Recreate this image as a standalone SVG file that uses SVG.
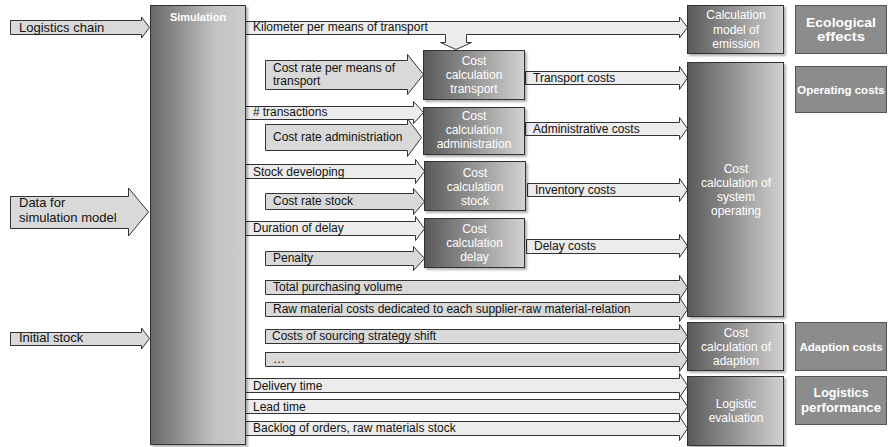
<svg xmlns="http://www.w3.org/2000/svg" width="889" height="447" viewBox="0 0 889 447">
  <defs>
    <linearGradient id="gSim" x1="0" y1="0" x2="1" y2="0">
      <stop offset="0" stop-color="#676767"/>
      <stop offset="0.68" stop-color="#c3c3c3"/>
      <stop offset="1" stop-color="#cdcdcd"/>
    </linearGradient>
    <linearGradient id="gCalc" x1="0" y1="0" x2="1" y2="0">
      <stop offset="0" stop-color="#595959"/>
      <stop offset="1" stop-color="#d2d2d2"/>
    </linearGradient>
    <filter id="shadow" x="-10%" y="-10%" width="130%" height="130%">
      <feDropShadow dx="2" dy="2" stdDeviation="1" flood-color="#000" flood-opacity="0.3"/>
    </filter>
  </defs>
  <style>
    .arr { stroke: #333; stroke-width: 1; }
    .in { fill: #d9d9d9; }
    .out { fill: #ececec; }
    text { font-family: "Liberation Sans", Arial, sans-serif; }
    .lbl { font-size: 12px; fill: #111; }
    .big { font-size: 13px; fill: #111; }
    .box { stroke: #333; stroke-width: 1; fill: url(#gCalc); filter: url(#shadow); }
    .sim { stroke: #333; stroke-width: 1; fill: url(#gSim); filter: url(#shadow); }
    .btx { font-size: 12px; fill: #fff; text-anchor: middle; }
    .res { fill: #8c8c8c; stroke: #555; stroke-width: 1; }
    .rtx { font-size: 12.5px; font-weight: bold; fill: #fff; text-anchor: middle; }
    .rtx-s { font-size: 11.5px; font-weight: bold; fill: #fff; text-anchor: middle; }
  </style>

  <!-- arrows: inputs, simulation outputs and cost flows -->
  <g id="connectors">
    <g class="arr in">
      <path d="M10.5,20.5 H141.5 V17 L149.5,27.5 L141.5,38 V34.5 H10.5 Z"/>
      <path d="M10.5,196.5 H128.5 V188 L148.5,212 L128.5,236 V228.5 H10.5 Z"/>
      <path d="M10.5,332.5 H141.5 V328 L149.5,338.5 L141.5,349 V345.5 H10.5 Z"/>
      <path d="M265.5,60.5 H407.5 V54.5 L423.5,74.5 L407.5,94.5 V89.5 H265.5 Z"/>
      <path d="M265.5,124.5 H407.5 V118.5 L421.5,137.5 L407.5,156.5 V150.5 H265.5 Z"/>
      <path d="M265.5,193.5 H413.5 V188.5 L424.5,201.5 L413.5,214.5 V209.5 H265.5 Z"/>
      <path d="M265.5,251.5 H413.5 V246.5 L424.5,258.5 L413.5,270.5 V265.5 H265.5 Z"/>
      <path d="M265.5,280.5 H679.5 V275.5 L687.5,287.5 L679.5,299.5 V294.5 H265.5 Z"/>
      <path d="M265.5,302.5 H679.5 V297.5 L687.5,309.5 L679.5,321.5 V316.5 H265.5 Z"/>
      <path d="M265.5,329.5 H679.5 V324.5 L687.5,336.5 L679.5,348.5 V343.5 H265.5 Z"/>
      <path d="M265.5,352.5 H679.5 V347.5 L687.5,359.5 L679.5,371.5 V366.5 H265.5 Z"/>
    </g>
    <g class="arr out">
      <!-- kilometre flow with a branch down into transport costing -->
      <path d="M245.5,21.5 H679.5 V17 L687.5,27.5 L679.5,38 V34.5 H466.5 V42.5 H471.5 L456,49.5 L440.5,42.5 H445.5 V34.5 H245.5 Z"/>
      <path d="M245.5,106.5 H413.5 V101.5 L423.5,112.5 L413.5,123.5 V119.5 H245.5 Z"/>
      <path d="M245.5,164.5 H415.5 V159.5 L424.5,171.5 L415.5,183.5 V178.5 H245.5 Z"/>
      <path d="M245.5,221.5 H415.5 V216.5 L424.5,228.5 L415.5,240.5 V235.5 H245.5 Z"/>
      <path d="M245.5,378.5 H679.5 V373.5 L687.5,385.5 L679.5,397.5 V392.5 H245.5 Z"/>
      <path d="M245.5,399.5 H679.5 V394.5 L687.5,406.5 L679.5,418.5 V413.5 H245.5 Z"/>
      <path d="M245.5,421.5 H679.5 V416.5 L687.5,428.5 L679.5,440.5 V435.5 H245.5 Z"/>
      <path d="M525.5,71.5 H679.5 V66.5 L687.5,78 L679.5,89.5 V84.5 H525.5 Z"/>
      <path d="M525.5,122.5 H679.5 V117.5 L687.5,128.5 L679.5,139.5 V135.5 H525.5 Z"/>
      <path d="M527.5,183.5 H679.5 V178.5 L687.5,190 L679.5,201.5 V196.5 H527.5 Z"/>
      <path d="M526.5,239.5 H679.5 V234.5 L687.5,246 L679.5,257.5 V253.5 H526.5 Z"/>
    </g>
    <g class="big">
      <text x="19" y="32">Logistics chain</text>
      <text x="19" y="207">Data for</text>
      <text x="19" y="222">simulation model</text>
      <text x="19" y="342">Initial stock</text>
    </g>
    <g class="lbl">
      <text x="253" y="31">Kilometer per means of transport</text>
      <text x="273" y="71.5">Cost rate per means of</text>
      <text x="273" y="84.5">transport</text>
      <text x="253" y="116">#<tspan dx="3">transactions</tspan></text>
      <text x="273" y="141">Cost rate administriation</text>
      <text x="253" y="175.5">Stock developing</text>
      <text x="273" y="205">Cost rate stock</text>
      <text x="253" y="232">Duration of delay</text>
      <text x="273" y="262">Penalty</text>
      <text x="273" y="290.5">Total purchasing volume</text>
      <text x="273" y="313">Raw material costs dedicated to each supplier-raw  material-relation</text>
      <text x="272" y="340">Costs of sourcing strategy shift</text>
      <text x="273" y="363">…</text>
      <text x="253" y="389.5">Delivery time</text>
      <text x="253" y="410.5">Lead time</text>
      <text x="253" y="432">Backlog of orders, raw materials stock</text>
      <text x="533" y="82">Transport costs</text>
      <text x="533" y="132.5">Administrative costs</text>
      <text x="535" y="193.5">Inventory costs</text>
      <text x="534" y="250">Delay costs</text>
    </g>
  </g>

  <g id="simulation">
    <rect class="sim" x="150.5" y="5.5" width="95" height="439"/>
    <text x="198" y="20.5" font-size="11" font-weight="bold" fill="#fff" text-anchor="middle">Simulation</text>
  </g>

  <g id="emission-model">
    <rect class="box" x="687.5" y="5.5" width="96" height="48"/>
    <text class="btx" x="736" y="19">Calculation</text>
    <text class="btx" x="736" y="33.5">model of</text>
    <text class="btx" x="736" y="47.5">emission</text>
  </g>

  <g id="cost-transport">
    <rect class="box" x="423.5" y="50.5" width="101" height="49"/>
    <text class="btx" x="474" y="65">Cost</text>
    <text class="btx" x="474" y="79">calculation</text>
    <text class="btx" x="474" y="92.5">transport</text>
  </g>

  <g id="cost-administration">
    <rect class="box" x="423.5" y="107.5" width="101" height="47"/>
    <text class="btx" x="474" y="120">Cost</text>
    <text class="btx" x="474" y="134">calculation</text>
    <text class="btx" x="474" y="148">administration</text>
  </g>

  <g id="cost-stock">
    <rect class="box" x="424.5" y="161.5" width="101" height="49"/>
    <text class="btx" x="475" y="176.5">Cost</text>
    <text class="btx" x="475" y="190.5">calculation</text>
    <text class="btx" x="475" y="204.5">stock</text>
  </g>

  <g id="cost-delay">
    <rect class="box" x="424.5" y="218.5" width="100" height="49"/>
    <text class="btx" x="474.5" y="233">Cost</text>
    <text class="btx" x="474.5" y="247">calculation</text>
    <text class="btx" x="474.5" y="261">delay</text>
  </g>

  <g id="cost-system-operating">
    <rect class="box" x="687.5" y="62.5" width="96" height="254"/>
    <text class="btx" x="736" y="172.5">Cost</text>
    <text class="btx" x="736" y="186.5">calculation of</text>
    <text class="btx" x="736" y="200.5">system</text>
    <text class="btx" x="736" y="214.5">operating</text>
  </g>

  <g id="cost-adaption">
    <rect class="box" x="687.5" y="322.5" width="96" height="48"/>
    <text class="btx" x="736" y="337">Cost</text>
    <text class="btx" x="736" y="351">calculation of</text>
    <text class="btx" x="736" y="365">adaption</text>
  </g>

  <g id="logistic-evaluation">
    <rect class="box" x="687.5" y="376.5" width="96" height="69"/>
    <text class="btx" x="736" y="408">Logistic</text>
    <text class="btx" x="736" y="422">evaluation</text>
  </g>

  <g id="ecological-effects">
    <rect class="res" x="795.5" y="5.5" width="91" height="48"/>
    <text class="rtx" x="841" y="27" textLength="70" lengthAdjust="spacingAndGlyphs">Ecological</text>
    <text class="rtx" x="841" y="41" textLength="48" lengthAdjust="spacingAndGlyphs">effects</text>
  </g>

  <g id="operating-costs">
    <rect class="res" x="795.5" y="66.5" width="91" height="46"/>
    <text class="rtx-s" x="841" y="94">Operating costs</text>
  </g>

  <g id="adaption-costs">
    <rect class="res" x="795.5" y="322.5" width="91" height="48"/>
    <text class="rtx-s" x="841" y="351">Adaption costs</text>
  </g>

  <g id="logistics-performance">
    <rect class="res" x="795.5" y="376.5" width="91" height="48"/>
    <text class="rtx" x="841" y="397" textLength="55" lengthAdjust="spacingAndGlyphs">Logistics</text>
    <text class="rtx" x="841" y="411.5" textLength="80" lengthAdjust="spacingAndGlyphs">performance</text>
  </g>
</svg>
